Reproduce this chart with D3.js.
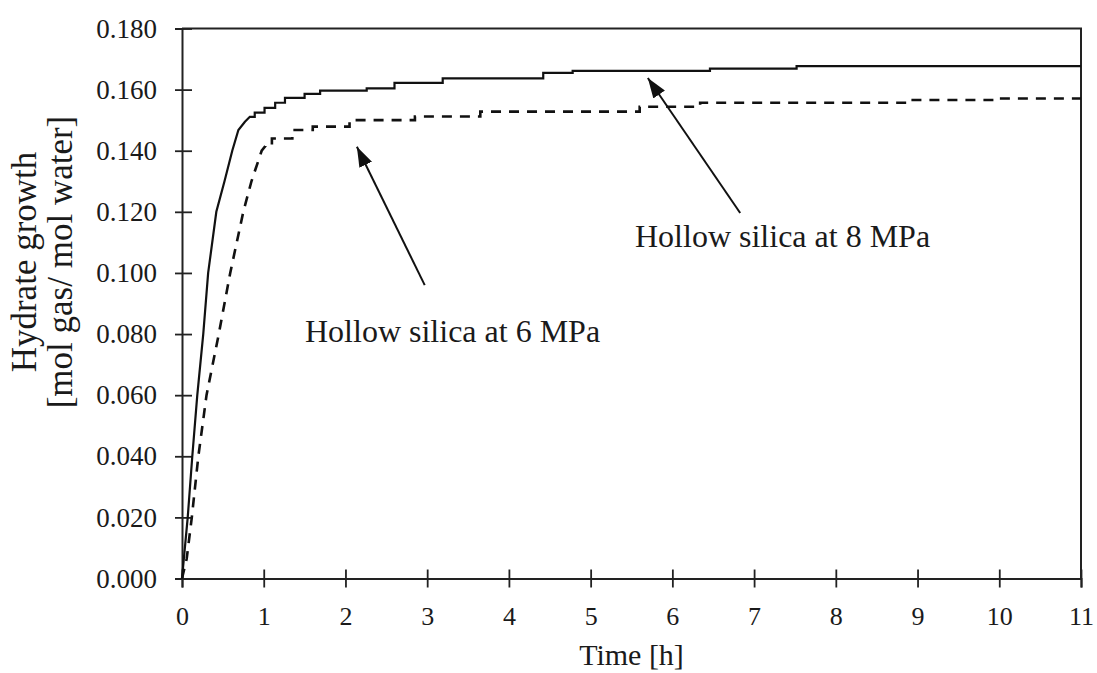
<!DOCTYPE html>
<meta charset="utf-8">
<head>
<script src="https://d3js.org/d3.v7.min.js"></script>
<style>
  body { margin: 0; background: #fff; }
  text { font-family: "Liberation Serif", "Times New Roman", serif; fill: #1a1a1a; }
</style>
</head>
<body>
<div id="chart"></div>
<script>

// data
var xTicks = [0, 1, 2, 3, 4, 5, 6, 7, 8, 9, 10, 11];
var yTicks = [0, 0.02, 0.04, 0.06, 0.08, 0.10, 0.12, 0.14, 0.16, 0.18];

// Hollow silica at 8 MPa (solid)
var t8 = [0, 0.07, 0.126, 0.187, 0.26, 0.32, 0.42, 0.52, 0.615, 0.69, 0.77, 0.83,
          0.89, 0.89, 1.01, 1.01, 1.14, 1.14, 1.26, 1.26, 1.50, 1.50, 1.69, 1.69,
          2.26, 2.26, 2.60, 2.60, 3.19, 3.19, 4.42, 4.42, 4.78, 4.78, 6.46, 6.46,
          7.52, 7.52, 11.0];
var v8 = [0, 0.020, 0.040, 0.060, 0.080, 0.100, 0.120, 0.130, 0.140, 0.1468, 0.1495, 0.1511,
          0.1511, 0.1525, 0.1525, 0.1540, 0.1540, 0.1557, 0.1557, 0.1573, 0.1573, 0.1586, 0.1586, 0.1597,
          0.1597, 0.1604, 0.1604, 0.1622, 0.1622, 0.1637, 0.1637, 0.1655, 0.1655, 0.1661, 0.1661, 0.1669,
          0.1669, 0.1677, 0.1677];

// Hollow silica at 6 MPa (dashed)
var t6 = [0, 0.057, 0.12, 0.20, 0.30, 0.45, 0.59, 0.75, 0.85, 0.975,
          1.02, 1.02, 1.10, 1.10, 1.35, 1.35, 1.60, 1.60, 2.05, 2.05, 2.85, 2.85,
          3.65, 3.65, 5.60, 5.60, 6.34, 6.34, 8.90, 8.90, 10.0, 10.0, 11.0];
var v6 = [0, 0.0064, 0.020, 0.040, 0.060, 0.080, 0.100, 0.120, 0.130, 0.140,
          0.1415, 0.1420, 0.1420, 0.1440, 0.1440, 0.1468, 0.1468, 0.1479, 0.1479, 0.1500, 0.1500, 0.1512,
          0.1512, 0.1528, 0.1528, 0.1544, 0.1544, 0.1557, 0.1557, 0.1566, 0.1566, 0.1571, 0.1571];

var labels = [
  {text: "Hollow silica at 8 MPa", tx: 635, ty: 247, from: [6.83, 0.1196], to: [5.70, 0.1638]},
  {text: "Hollow silica at 6 MPa", tx: 305, ty: 342, from: [2.97, 0.0960], to: [2.14, 0.1413]}
];

var W = 1097, H = 673;
var margin = {top: 28.5, right: 16, bottom: 94.5, left: 182},
    width = W - margin.left - margin.right,
    height = H - margin.top - margin.bottom;

var svg = d3.select("#chart")
  .append("svg")
    .attr("width", W)
    .attr("height", H)
  .append("g")
    .attr("transform", "translate(" + margin.left + "," + margin.top + ")");

var x = d3.scaleLinear().domain([0, 11]).range([0, width]);
var y = d3.scaleLinear().domain([0, 0.18]).range([height, 0]);

// frame (top and right)
svg.append("path")
  .attr("d", "M0,0H" + width + "V" + height)
  .attr("fill", "none")
  .attr("stroke", "#222")
  .attr("stroke-width", 2);

// Y axis with crossing ticks
var yAxis = svg.append("g")
  .call(d3.axisLeft(y).tickValues(yTicks).tickFormat(d3.format(".3f"))
    .tickSize(7).tickPadding(18));
yAxis.select(".domain").attr("stroke", "#222").attr("stroke-width", 2);
yAxis.selectAll(".tick line").attr("x2", 10).attr("x1", -7).attr("stroke", "#222").attr("stroke-width", 1.8);
yAxis.selectAll(".tick text").style("font-size", "27px").style("font-family", "Liberation Serif").attr("fill", "#1a1a1a");

// X axis with crossing ticks
var xAxis = svg.append("g")
  .attr("transform", "translate(0," + height + ")")
  .call(d3.axisBottom(x).tickValues(xTicks).tickSize(9).tickPadding(0));
xAxis.select(".domain").attr("stroke", "#222").attr("stroke-width", 2);
xAxis.selectAll(".tick line").attr("y1", -9).attr("y2", 9).attr("stroke", "#222").attr("stroke-width", 1.8);
xAxis.selectAll(".tick text").attr("y", 46).attr("dy", null)
  .style("font-size", "26px").style("font-family", "Liberation Serif").attr("fill", "#1a1a1a");

// axis titles
svg.append("text")
  .attr("x", x(5.5))
  .attr("y", height + 86)
  .attr("text-anchor", "middle")
  .style("font-size", "30px")
  .text("Time [h]");

svg.append("text")
  .attr("transform", "translate(" + (36 - margin.left) + "," + (262 - margin.top) + ") rotate(-90)")
  .attr("text-anchor", "middle")
  .style("font-size", "35px")
  .text("Hydrate growth");
svg.append("text")
  .attr("transform", "translate(" + (72 - margin.left) + "," + (262 - margin.top) + ") rotate(-90)")
  .attr("text-anchor", "middle")
  .style("font-size", "35px")
  .text("[mol gas/ mol water]");

// lines
var line = d3.line()
  .x(function(d) { return x(d[0]); })
  .y(function(d) { return y(d[1]); });

svg.append("path")
  .datum(d3.zip(t8, v8))
  .attr("fill", "none")
  .attr("stroke", "#111")
  .attr("stroke-width", 2.2)
  .attr("d", line);

svg.append("path")
  .datum(d3.zip(t6, v6))
  .attr("fill", "none")
  .attr("stroke", "#111")
  .attr("stroke-width", 2.6)
  .attr("stroke-dasharray", "10,8")
  .attr("d", line);

// arrows + labels
svg.append("defs").append("marker")
  .attr("id", "head")
  .attr("viewBox", "0 0 20 14")
  .attr("refX", 20).attr("refY", 7)
  .attr("markerWidth", 20).attr("markerHeight", 14)
  .attr("markerUnits", "userSpaceOnUse")
  .attr("orient", "auto")
  .append("path")
    .attr("d", "M0,0L20,7L0,14Z")
    .attr("fill", "#111");

labels.forEach(function(l) {
  svg.append("line")
    .attr("x1", x(l.from[0])).attr("y1", y(l.from[1]))
    .attr("x2", x(l.to[0])).attr("y2", y(l.to[1]))
    .attr("stroke", "#111")
    .attr("stroke-width", 2)
    .attr("marker-end", "url(#head)");
  svg.append("text")
    .attr("x", l.tx - margin.left)
    .attr("y", l.ty - margin.top)
    .style("font-size", "32px")
    .text(l.text);
});

</script>
</body>
</html>
